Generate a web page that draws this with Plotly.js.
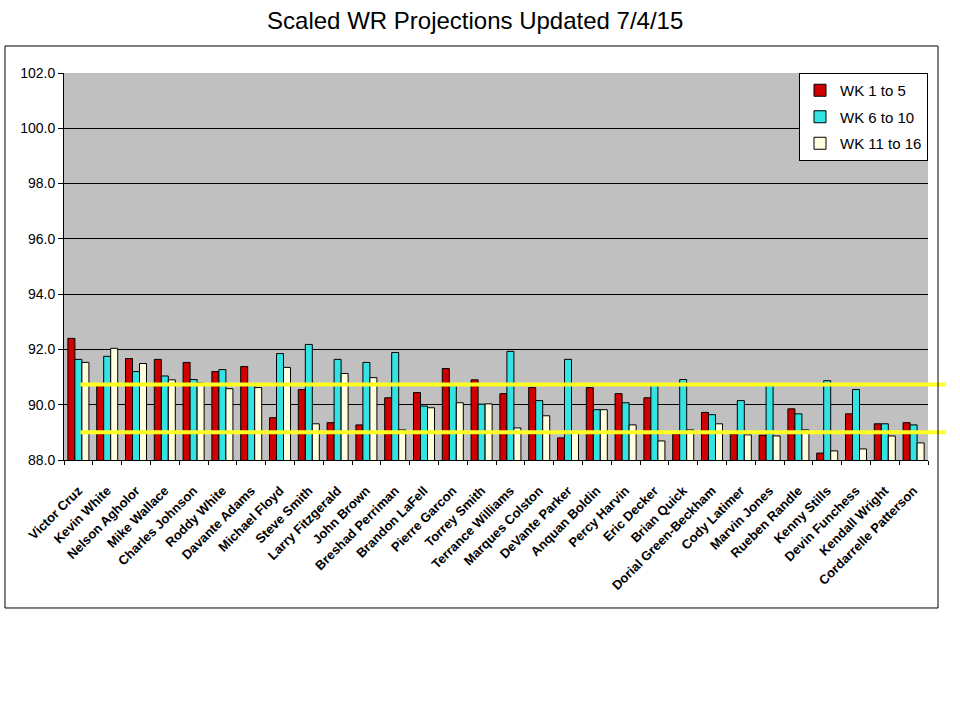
<!DOCTYPE html>
<html>
<head>
<meta charset="utf-8">
<script src="https://cdn.plot.ly/plotly-3.0.1.min.js"></script>
<style>html,body{margin:0;padding:0;background:#fff;}#chart{width:960px;height:720px;}</style>
</head>
<body>
<div id="chart"></div>
<script>
const players = ["Victor Cruz","Kevin White","Nelson Agholor","Mike Wallace","Charles Johnson","Roddy White","Davante Adams","Michael Floyd","Steve Smith","Larry Fitzgerald","John Brown","Breshad Perriman","Brandon LaFell","Pierre Garcon","Torrey Smith","Terrance Williams","Marques Colston","DeVante Parker","Anquan Boldin","Percy Harvin","Eric Decker","Brian Quick","Dorial Green-Beckham","Cody Latimer","Marvin Jones","Rueben Randle","Kenny Stills","Devin Funchess","Kendall Wright","Cordarrelle Patterson"];
const wk1to5 = [92.40, 90.70, 91.67, 91.64, 91.53, 91.20, 91.38, 89.53, 90.55, 89.35, 89.27, 90.25, 90.44, 91.31, 90.90, 90.40, 90.62, 88.80, 90.62, 90.40, 90.25, 88.95, 89.72, 88.95, 88.90, 89.85, 88.25, 89.67, 89.31, 89.35];
const wk6to10 = [91.64, 91.75, 91.20, 91.04, 90.91, 91.27, 90.70, 91.85, 92.18, 91.64, 91.53, 91.89, 89.95, 90.70, 90.02, 91.93, 90.15, 91.64, 89.82, 90.07, 90.70, 90.91, 89.64, 90.15, 90.72, 89.67, 90.87, 90.55, 89.31, 89.27];
const wk11to16 = [91.53, 92.04, 91.49, 90.90, 90.78, 90.58, 90.62, 91.35, 89.31, 91.13, 90.98, 89.09, 89.89, 90.07, 90.03, 89.16, 89.60, 89.00, 89.82, 89.27, 88.69, 89.09, 89.31, 88.91, 88.87, 89.09, 88.33, 88.40, 88.87, 88.62];
const seriesNames = ["WK 1 to 5", "WK 6 to 10", "WK 11 to 16"];
const refLines = [90.73, 89.0];

const FONT = "Arial, 'Liberation Sans', sans-serif";
const colors = ["#D00000", "#33E3E3", "#FFFFE0"];
const data = [wk1to5, wk6to10, wk11to16].map((vals, i) => ({
  type: "bar",
  name: seriesNames[i],
  x: players,
  y: vals,
  marker: {color: colors[i], line: {color: "#000", width: 1}},
  legendgroup: "g" + i,
  hoverinfo: "x+y+name"
}));

const shapes = refLines.map(v => ({
  type: "line", xref: "paper", yref: "y",
  x0: 0.019, x1: 1.0197, y0: v, y1: v,
  line: {color: "#FFFF22", width: 4}, layer: "above"
}));
shapes.push({
  type: "rect", xref: "paper", yref: "paper",
  x0: -0.0683, x1: 1.0116, y0: -0.3824, y1: 1.0698,
  line: {color: "#000", width: 1}, fillcolor: "rgba(0,0,0,0)", layer: "above"
});

const layout = {
  width: 960, height: 720,
  paper_bgcolor: "#FFFFFF",
  plot_bgcolor: "#C0C0C0",
  margin: {l: 64, r: 32, t: 73, b: 260},
  font: {family: FONT, color: "#000"},
  title: {text: "Scaled WR Projections Updated 7/4/15", font: {family: FONT, size: 24, color: "#000"},
          x: 0.495, xref: "container", y: 0.971, yref: "container", xanchor: "center", yanchor: "middle"},
  barmode: "group",
  bargap: 0.27,
  bargroupgap: 0,
  showlegend: true,
  legend: {x: 1, xanchor: "right", y: 1, yanchor: "top", bgcolor: "#FFFFFF", bordercolor: "#000", borderwidth: 1,
           font: {family: FONT, size: 15, color: "#000"}, traceorder: "grouped", tracegroupgap: 4, itemwidth: 30},
  xaxis: {
    type: "category", tickangle: -45, tickfont: {family: FONT, size: 13, color: "#000", weight: "bold"},
    showline: true, linecolor: "#000", linewidth: 1, ticks: "outside", tickson: "boundaries", ticklen: 4, tickcolor: "#000",
    showgrid: false, automargin: false, ticklabelstandoff: 17
  },
  yaxis: {
    range: [88, 102], dtick: 2, tick0: 88, tickformat: ".1f", tickfont: {family: FONT, size: 14, color: "#000"},
    showline: true, linecolor: "#000", linewidth: 1, ticks: "outside", ticklen: 5, tickcolor: "#000",
    showgrid: true, gridcolor: "#000", gridwidth: 1, zeroline: false, automargin: false
  },
  shapes: shapes
};

Plotly.newPlot("chart", data, layout, {displayModeBar: false, staticPlot: true});
</script>
</body>
</html>
